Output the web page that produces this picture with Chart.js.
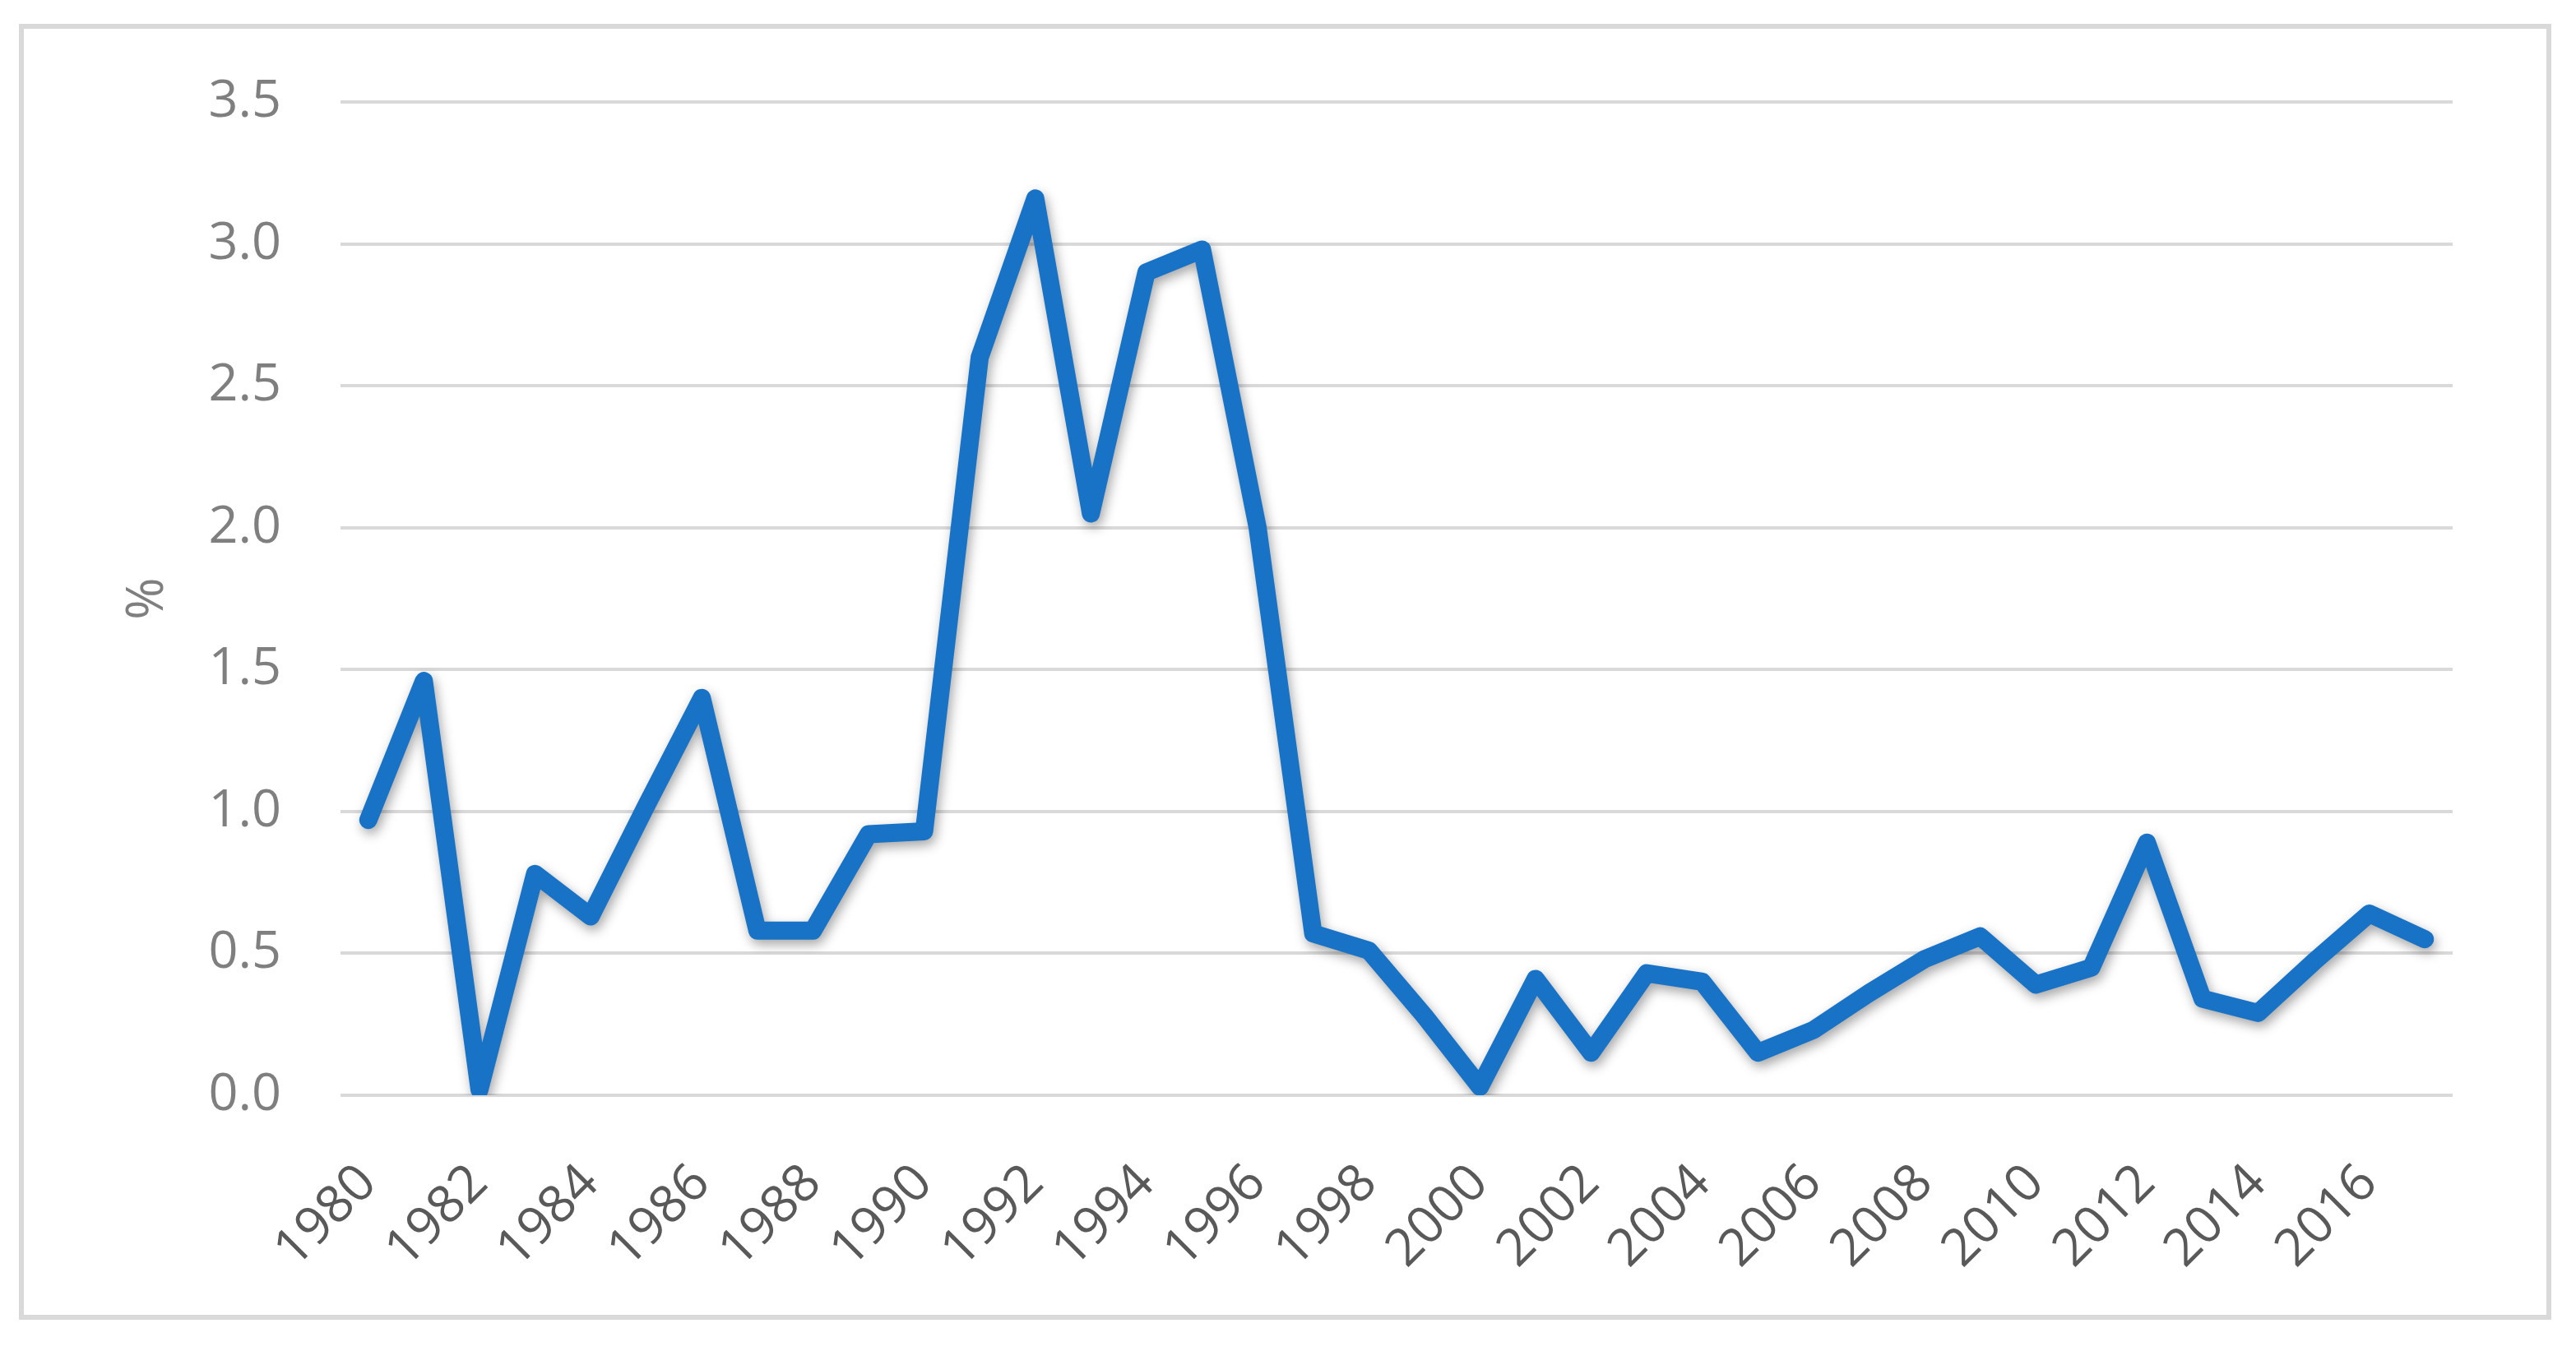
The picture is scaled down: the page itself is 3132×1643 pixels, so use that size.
<!DOCTYPE html>
<html>
<head>
<meta charset="utf-8">
<script src="https://cdn.jsdelivr.net/npm/chart.js@4/dist/chart.umd.min.js"></script>
<style>
  html, body { margin: 0; padding: 0; background: #ffffff; }
  body { width: 3132px; height: 1643px; position: relative; overflow: hidden; }
  #frame { position: absolute; left: 23px; top: 29px; width: 3079px; height: 1576px; box-sizing: border-box; border: 6px solid #d9d9d9; }
  #wrap { position: absolute; left: 0; top: 0; width: 3132px; height: 1643px; }
</style>
</head>
<body>
<div id="frame"></div>
<div id="wrap"><canvas id="c" width="3132" height="1643"></canvas></div>
<script>
const years = [1980,1981,1982,1983,1984,1985,1986,1987,1988,1989,1990,1991,1992,1993,1994,1995,1996,1997,1998,1999,2000,2001,2002,2003,2004,2005,2006,2007,2008,2009,2010,2011,2012,2013,2014,2015,2016,2017];
const values = [0.97,1.46,0.02,0.78,0.63,1.02,1.40,0.58,0.58,0.92,0.93,2.60,3.16,2.05,2.90,2.98,2.00,0.57,0.51,0.28,0.03,0.41,0.15,0.43,0.40,0.15,0.23,0.36,0.48,0.56,0.39,0.45,0.89,0.34,0.29,0.47,0.64,0.55];
const yTicks = [0.0,0.5,1.0,1.5,2.0,2.5,3.0,3.5];
const yTitle = '%';

const shadowPlugin = {
  id: 'lineShadow',
  beforeDatasetsDraw(chart) {
    const ctx = chart.ctx;
    ctx.save();
    ctx.shadowColor = 'rgba(0,0,0,0.35)';
    ctx.shadowBlur = 14;
    ctx.shadowOffsetX = 3;
    ctx.shadowOffsetY = 6;
  },
  afterDatasetsDraw(chart) {
    chart.ctx.restore();
  }
};

const FONT = '"Open Sans", "Liberation Sans", sans-serif';

new Chart(document.getElementById('c'), {
  type: 'line',
  data: {
    labels: years.map(String),
    datasets: [{
      data: values,
      borderColor: '#1872c6',
      borderWidth: 22,
      borderJoinStyle: 'round',
      borderCapStyle: 'round',
      pointRadius: 0,
      pointHoverRadius: 0,
      tension: 0,
      fill: false
    }]
  },
  options: {
    responsive: false,
    animation: false,
    devicePixelRatio: 1,
    layout: { padding: { left: 0, right: 150, top: 124, bottom: 0 } },
    plugins: { legend: { display: false }, tooltip: { enabled: false } },
    scales: {
      x: {
        offset: true,
        grid: { display: false, drawTicks: false },
        border: { display: false },
        ticks: {
          autoSkip: false,
          minRotation: 45,
          maxRotation: 45,
          padding: 70,
          color: '#595959',
          font: { family: FONT, size: 63 },
          callback: function(val, idx) { return idx % 2 === 0 ? String(years[idx]) : ''; }
        },
        afterFit: function(scale) { scale.height = 311; }
      },
      y: {
        min: 0,
        max: 3.5,
        afterBuildTicks: function(scale) { scale.ticks = yTicks.map(v => ({ value: v })); },
        grid: { color: '#d9d9d9', lineWidth: 4, drawTicks: false },
        border: { display: false },
        ticks: {
          padding: 72,
          color: '#7f7f7f',
          font: { family: FONT, size: 63 },
          callback: function(v) { return Number(v).toFixed(1); }
        },
        title: {
          display: true,
          text: yTitle,
          color: '#7f7f7f',
          font: { family: FONT, size: 62 },
          padding: { top: 143, bottom: 0 }
        },
        afterFit: function(scale) { scale.width = 414; }
      }
    }
  },
  plugins: [shadowPlugin]
});
</script>
</body>
</html>
